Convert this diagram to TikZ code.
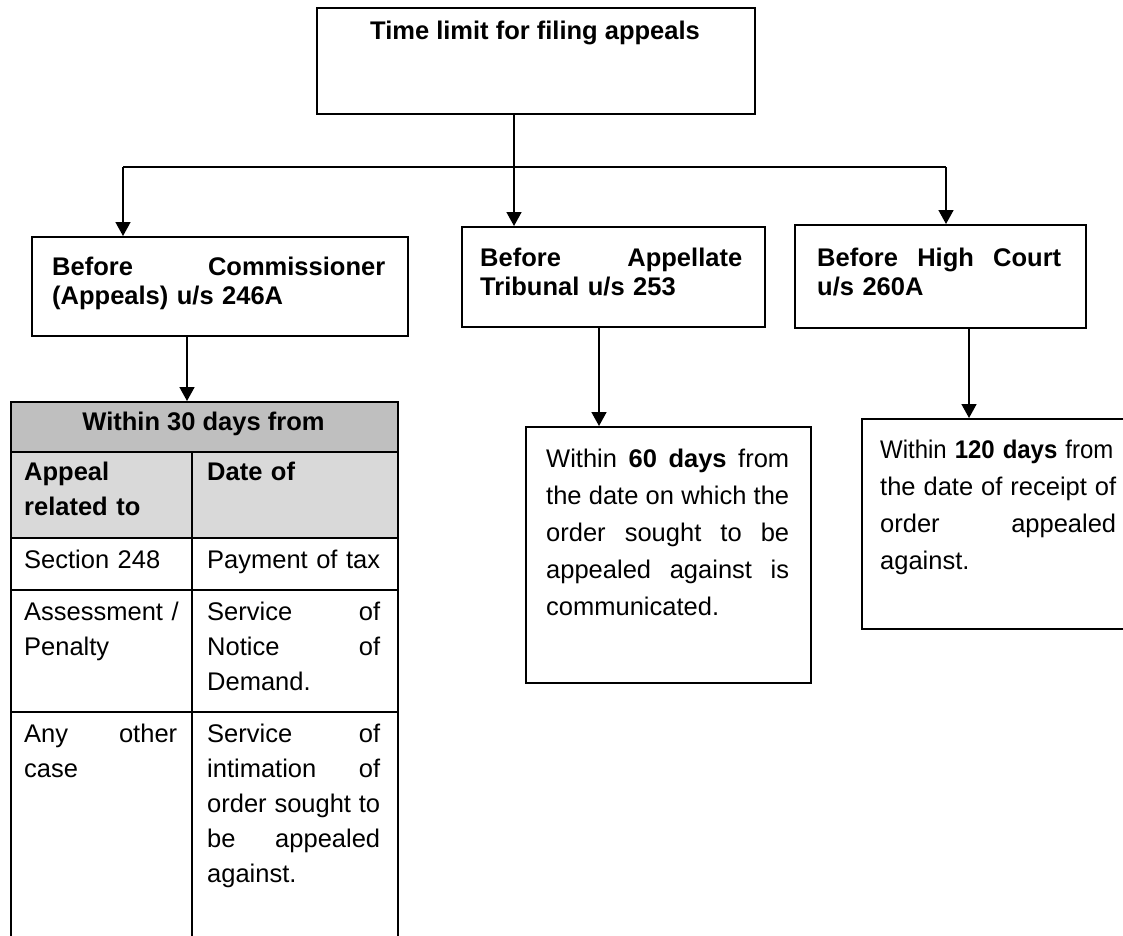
\documentclass[tikz,border=0pt]{standalone}
\usepackage{fontspec}
\usepackage{graphicx}
\setmainfont{Liberation Sans}
\usetikzlibrary{arrows.meta}
\newcommand\fsA{\fontsize{25.5}{29}\selectfont}
\newcommand\fsT{\fontsize{25.5}{35}\selectfont}
\newcommand\fsB{\fontsize{25.5}{37}\selectfont}
\newcommand\jl[2]{\leavevmode\hbox to #1pt{\spaceskip=0.2em plus 1fil\relax #2}}
\definecolor{hdrgray}{HTML}{BFBFBF}
\definecolor{subgray}{HTML}{D9D9D9}
\tikzset{
  box/.style={draw, line width=2, inner sep=0, anchor=north west},
  arr/.style={line width=1.6, -{Triangle[width=15,length=14]}},
  conn/.style={line width=1.6},
  txt/.style={inner sep=0, anchor=base west, align=left},
}
\begin{document}
\begin{tikzpicture}[x=1pt,y=-1pt]
\useasboundingbox (0,0) rectangle (1123,935);
\clip (0,0) rectangle (1123,935);

% title
\node[box, minimum width=438, minimum height=106] (title) at (316,7) {};
\node[inner sep=0, anchor=base, font=\fsA\bfseries] (titletxt) at (535,39) {Time limit for filing appeals};

% second level boxes
\node[box, minimum width=376, minimum height=99] (comm) at (31,236) {};
\node[txt, text width=333, font=\fsA\bfseries] (commtxt) at (52,275) {\jl{333}{Before Commissioner}\\(Appeals) u/s 246A};

\node[box, minimum width=303, minimum height=100] (app) at (461,226) {};
\node[txt, text width=262, font=\fsA\bfseries] (apptxt) at (480,266) {\jl{262}{Before Appellate}\\Tribunal u/s 253};

\node[box, minimum width=291, minimum height=103] (hc) at (794,224) {};
\node[txt, text width=244, font=\fsA\bfseries] (hctxt) at (817,266) {\jl{244}{Before High Court}\\u/s 260A};

% third level boxes
\node[box, minimum width=285, minimum height=256] (sixty) at (525,426) {};
\node[txt, text width=243, font=\fsB] (sixtytxt) at (546,467) {\jl{243}{Within \textbf{60 days} from}\\\jl{243}{the date on which the}\\\jl{243}{order sought to be}\\\jl{243}{appealed against is}\\communicated.};

\node[box, minimum width=275, minimum height=210] (oneTwenty) at (861,418) {};
\node[txt, text width=237, font=\fsB] (oneTwentytxt) at (880,458) {\scalebox{0.94}[1]{Within \textbf{120 days} from}\\\jl{236}{the date of receipt of}\\\jl{236}{order appealed}\\against.};

% table
\fill[hdrgray] (10,401) rectangle (397,452);
\fill[subgray] (10,452) rectangle (397,538);
\node[box, minimum width=387, minimum height=560] (tab) at (10,401) {};
\draw[line width=2] (10,452) -- (397,452);
\draw[line width=2] (10,538) -- (397,538);
\draw[line width=2] (10,590) -- (397,590);
\draw[line width=2] (10,712) -- (397,712);
\draw[line width=2] (192,452) -- (192,960);

\node[inner sep=0, anchor=base, font=\fsT\bfseries] (thead) at (203.5,430) {Within 30 days from};
\node[txt, text width=155, font=\fsT\bfseries] (c21) at (24,480) {Appeal\\related to};
\node[txt, text width=173, font=\fsT\bfseries] (c22) at (207,480) {Date of};
\node[txt, text width=155, font=\fsT] (c31) at (24,568) {Section 248};
\node[txt, text width=173, font=\fsT] (c32) at (207,568) {Payment of tax};
\node[txt, text width=155, font=\fsT] (c41) at (24,620) {\mbox{Assessment /}\\Penalty};
\node[txt, text width=173, font=\fsT] (c42) at (207,620) {\jl{173}{Service of}\\\jl{173}{Notice of}\\Demand.};
\node[txt, text width=153, font=\fsT] (c51) at (24,742) {\jl{153}{Any other}\\case};
\node[txt, text width=173, font=\fsT] (c52) at (207,742) {\jl{173}{Service of}\\\jl{173}{intimation of}\\\jl{173}{order sought to}\\\jl{173}{be appealed}\\against.};

% connectors
\coordinate (mx) at (514,0);
\coordinate (hl) at (123,167);
\coordinate (hr) at (946,167);
\draw[conn] (hl) -- (hr);
\draw[arr] (mx |- title.south) -- (mx |- app.north);
\draw[arr] (hl) -- (hl |- comm.north);
\draw[arr] (hr) -- (hr |- hc.north);

\coordinate (cx) at (187,0);
\coordinate (ax) at (599,0);
\coordinate (hx) at (969,0);
\draw[arr] (cx |- comm.south) -- (cx |- tab.north);
\draw[arr] (ax |- app.south) -- (ax |- sixty.north);
\draw[arr] (hx |- hc.south) -- (hx |- oneTwenty.north);
\end{tikzpicture}
\end{document}
